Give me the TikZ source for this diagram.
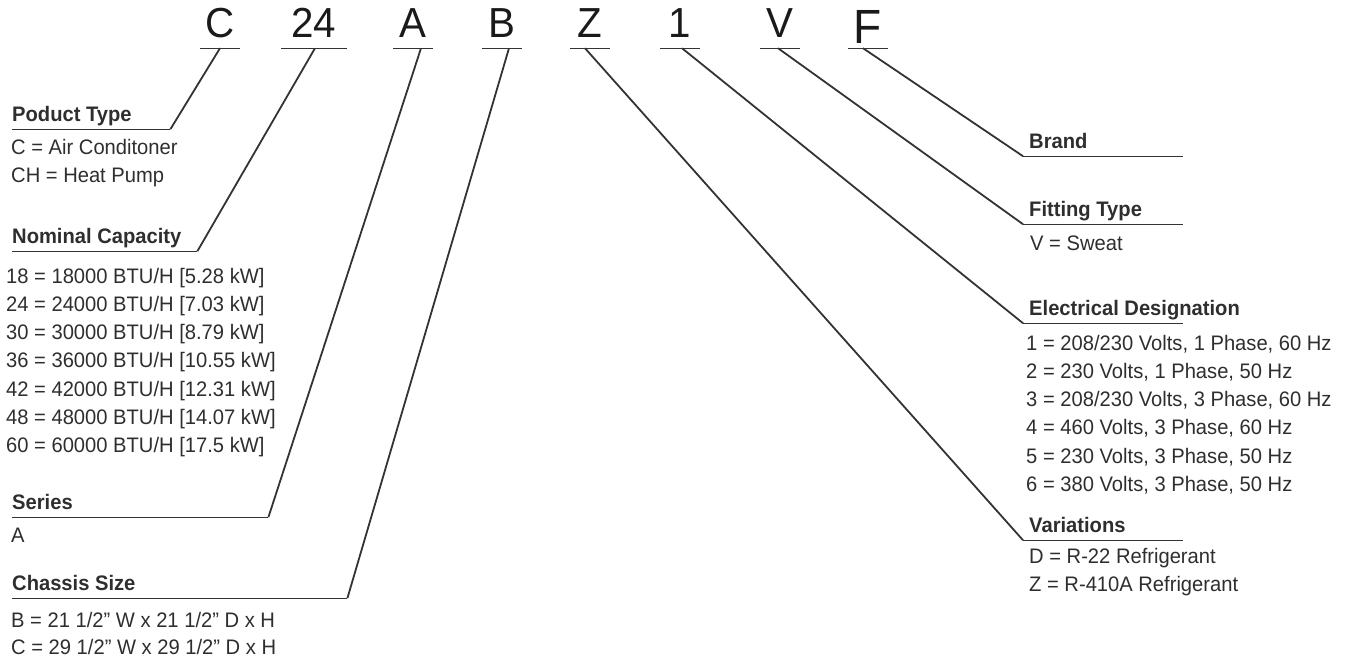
\documentclass[tikz,border=0pt]{standalone}
\usepackage{fontspec}
\setmainfont{Liberation Sans}[FakeStretch=0.96]
\usetikzlibrary{positioning}
\definecolor{ink}{HTML}{2E2E2E}
\definecolor{dark}{HTML}{1A1A1A}
\definecolor{wire}{HTML}{333333}

% fixed-width label box, text may run past the rule
\newcommand{\lbl}[2]{\makebox[#1][l]{#2}}

\tikzset{
  code/.style={anchor=base, inner sep=0pt, text depth=10.5pt, minimum width=40pt,
    font=\fontsize{42}{42}\selectfont, text=dark},
  head/.style={anchor=base west, inner sep=0pt, text depth=8pt,
    font=\bfseries\fontsize{21}{25}\selectfont, text=ink},
  rhead/.style={head, inner xsep=6pt},
  item/.style={anchor=base west, inner sep=0pt, font=\fontsize{21}{25}\selectfont, text=ink},
  rule/.style={wire, line width=1.4pt},
  link/.style={wire, line width=1.8pt},
}

\begin{document}
\begin{tikzpicture}[x=1pt, y=-1pt]
  \useasboundingbox (0,0) rectangle (1355,662);

  % model number
  \node[code] (cC) at (220,37.5) {C};
  \node[code, minimum width=66pt] (c24) at (314,37.5) {24};
  \node[code] (cA) at (413,37.5) {A};
  \node[code] (cB) at (502,37.5) {B};
  \node[code] (cZ) at (590,37.5) {Z};
  \node[code] (c1) at (680,37.5) {1};
  \node[code] (cV) at (780,37.5) {V};
  \node[code, font=\fontsize{48}{48}\selectfont, text depth=5pt] (cF) at (868,43) {F};
  \foreach \n in {cC,c24,cA,cB,cZ,c1,cV,cF}
    \draw[rule] (\n.south west) -- (\n.south east);

  % left side
  \node[head] (hProd) at (12,121) {\lbl{158pt}{Poduct Type}};
  \node[item] (pt1) at (11,154) {C = Air Conditoner};
  \node[item] (pt2) at (11,182.3) {CH = Heat Pump};

  \node[head] (hCap) at (12,243) {\lbl{185pt}{Nominal Capacity}};
  \foreach \t [count=\i from 0] in {
      {18 = 18000 BTU/H [5.28 kW]}, {24 = 24000 BTU/H [7.03 kW]},
      {30 = 30000 BTU/H [8.79 kW]}, {36 = 36000 BTU/H [10.55 kW]},
      {42 = 42000 BTU/H [12.31 kW]}, {48 = 48000 BTU/H [14.07 kW]},
      {60 = 60000 BTU/H [17.5 kW]}}
    \node[item] (cap\i) at (6,{283+28.3*\i}) {\t};

  \node[head] (hSer) at (12,509) {\lbl{256pt}{Series}};
  \node[item] (ser1) at (11,542) {A};

  \node[head] (hCha) at (12,590) {\lbl{335pt}{Chassis Size}};
  \node[item] (ch1) at (11,627) {B = 21 1/2'' W x 21 1/2'' D x H};
  \node[item] (ch2) at (11,654.5) {C = 29 1/2'' W x 29 1/2'' D x H};

  % right side
  \node[rhead] (hBrand) at (1023,148) {\lbl{148pt}{Brand}};

  \node[rhead] (hFit) at (1023,216) {\lbl{148pt}{Fitting Type}};
  \node[item] (fit1) at (1030,250) {V = Sweat};

  \node[rhead] (hElec) at (1023,315) {\lbl{148pt}{Electrical Designation}};
  \foreach \t [count=\i from 0] in {
      {1 = 208/230 Volts, 1 Phase, 60 Hz}, {2 = 230 Volts, 1 Phase, 50 Hz},
      {3 = 208/230 Volts, 3 Phase, 60 Hz}, {4 = 460 Volts, 3 Phase, 60 Hz},
      {5 = 230 Volts, 3 Phase, 50 Hz}, {6 = 380 Volts, 3 Phase, 50 Hz}}
    \node[item] (el\i) at (1026,{350+28.3*\i}) {\t};

  \node[rhead] (hVar) at (1023,532) {\lbl{148pt}{Variations}};
  \node[item] (var1) at (1029,563) {D = R-22 Refrigerant};
  \node[item] (var2) at (1029,591) {Z = R-410A Refrigerant};

  \foreach \n in {hProd,hCap,hSer,hCha,hBrand,hFit,hElec,hVar}
    \draw[rule] (\n.south west) -- (\n.south east);

  % leaders
  \draw[link] (hProd.south east) -- (cC.south);
  \draw[link] (hCap.south east) -- ([xshift=1pt]c24.south);
  \draw[link] (hSer.south east) -- ([xshift=8pt]cA.south);
  \draw[link] (hCha.south east) -- ([xshift=7pt]cB.south);
  \draw[link] (hVar.south west) -- ([xshift=-5pt]cZ.south);
  \draw[link] (hElec.south west) -- ([xshift=2pt]c1.south);
  \draw[link] (hFit.south west) -- ([xshift=-2pt]cV.south);
  \draw[link] (hBrand.south west) -- ([xshift=-5pt]cF.south);
\end{tikzpicture}
\end{document}
